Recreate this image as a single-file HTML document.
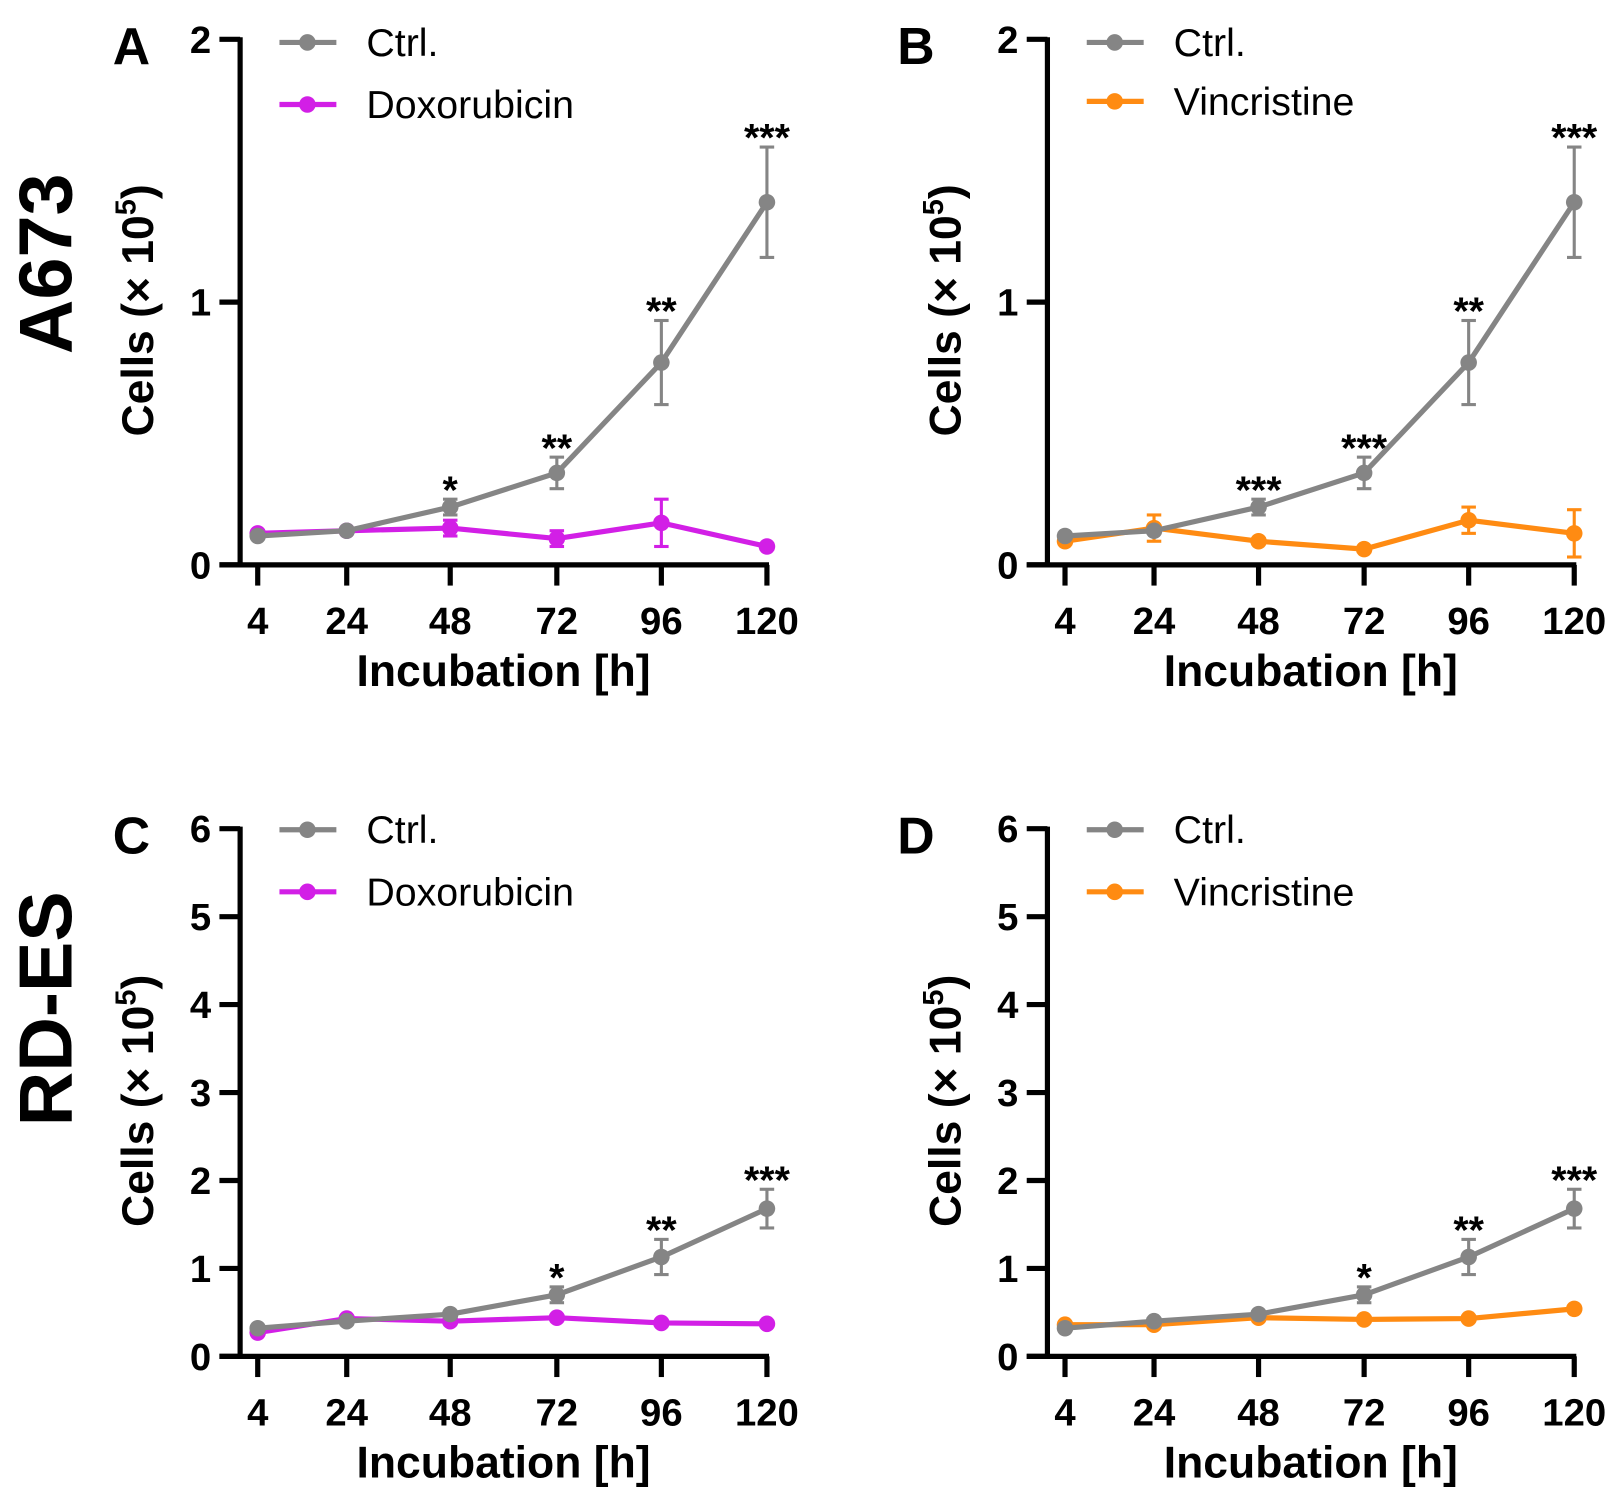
<!DOCTYPE html>
<html><head><meta charset="utf-8"><style>
html,body{margin:0;padding:0;background:#fff;}
svg{display:block;font-family:"Liberation Sans",Arial,sans-serif;}
</style></head><body>
<svg id="fig" width="1621" height="1503" viewBox="0 0 1621 1503" xmlns="http://www.w3.org/2000/svg">
<g id="root" transform="scale(1.0350 1.0346)">
<text x="45" y="255" font-size="73" font-weight="bold" text-anchor="middle" dominant-baseline="central" transform="rotate(-90 45 255)">A673</text>
<text x="45" y="975" font-size="73" font-weight="bold" text-anchor="middle" dominant-baseline="central" transform="rotate(-90 45 975)">RD-ES</text>
</g>
</svg>
<script>
const hours = ["4","24","48","72","96","120"];
const ctrlA = [0.11,0.13,0.22,0.35,0.77,1.38];
const ctrlAErr = [0.01,0.01,0.03,0.06,0.16,0.21];
const doxA = [0.12,0.13,0.14,0.10,0.16,0.07];
const doxAErr = [0.01,0.01,0.03,0.03,0.09,0.01];
const vinB = [0.09,0.14,0.09,0.06,0.17,0.12];
const vinBErr = [0.01,0.05,0.01,0.01,0.05,0.09];
const ctrlC = [0.32,0.40,0.48,0.70,1.13,1.68];
const ctrlCErr = [0.02,0.03,0.03,0.09,0.20,0.22];
const doxC = [0.27,0.43,0.40,0.44,0.38,0.37];
const doxCErr = [0.02,0.02,0.02,0.02,0.02,0.02];
const vinD = [0.36,0.36,0.44,0.42,0.43,0.54];
const vinDErr = [0.02,0.02,0.02,0.02,0.02,0.02];
const starsA = ["","","*","**","**","***"];
const starsB = ["","","***","***","**","***"];
const starsCD = ["","","","*","**","***"];
const ticksTop = [0,1,2];
const ticksBottom = [0,1,2,3,4,5,6];

const NS="http://www.w3.org/2000/svg";
const svg=document.getElementById('root');
function mk(tag,attrs,parent){const e=document.createElementNS(NS,tag);for(const k in attrs)e.setAttribute(k,attrs[k]);(parent||svg).appendChild(e);return e;}

const GRAY="#858585";
function panel(cfg){
  const g=mk('g',{});
  
  
  const ax=cfg.ax, y0=cfg.y0, yTop=cfg.yTop, ymax=cfg.ymax;
  const xs=cfg.xs;
  const X=i=>xs[i];
  const Y=v=>y0-(v/ymax)*(y0-yTop);
  const pl=mk('text',{x:cfg.lx,y:cfg.ly,'font-size':50,'font-weight':'bold','text-anchor':'middle'},g);
  pl.textContent=cfg.id;
  
  
  const yl=mk('line',{x1:ax,y1:yTop-2,x2:ax,y2:y0+2,stroke:'#000','stroke-width':5},g);
  
  
  const xl=mk('line',{x1:ax-20,y1:y0,x2:X(5)+2,y2:y0,stroke:'#000','stroke-width':5},g);
  
  
  cfg.ticks.forEach(t=>{
    mk('line',{x1:ax-20,y1:Y(t),x2:ax,y2:Y(t),stroke:'#000','stroke-width':5},g);
    const tl=mk('text',{x:ax-28,y:Y(t)+13,'font-size':37,'font-weight':'bold','text-anchor':'end'},g);
    tl.textContent=t;
    
    
  });
  hours.forEach((h,i)=>{
    mk('line',{x1:X(i),y1:y0,x2:X(i),y2:y0+20,stroke:'#000','stroke-width':5},g);
    const tl=mk('text',{x:X(i),y:y0+67,'font-size':37,'font-weight':'bold','text-anchor':'middle'},g);
    tl.textContent=h;
    
    
  });
  const xt=mk('text',{x:(ax+X(5))/2,y:y0+117,'font-size':43,'font-weight':'bold','text-anchor':'middle'},g);
  xt.textContent='Incubation [h]';
  
  
  const ycx=ax-84, ycy=(y0+yTop)/2+8;
  const yt=mk('text',{x:ycx,y:ycy,'font-size':43,'font-weight':'bold','text-anchor':'middle',transform:`rotate(-90 ${ycx} ${ycy})`},g);
  yt.innerHTML='Cells (× 10<tspan font-size="28" dy="-17">5</tspan><tspan dy="17">)</tspan>';
  
  
  function series(vals,errs,color,name){
    const sg=mk('g',{},g);
    
    
    mk('polyline',{points:vals.map((v,i)=>X(i)+','+Y(v)).join(' '),fill:'none',stroke:color,'stroke-width':5,'stroke-linejoin':'round'},sg);
    vals.forEach((v,i)=>{
      const e=errs[i];
      mk('line',{x1:X(i),y1:Y(v+e),x2:X(i),y2:Y(v-e),stroke:color,'stroke-width':3},sg);
      mk('line',{x1:X(i)-7,y1:Y(v+e),x2:X(i)+7,y2:Y(v+e),stroke:color,'stroke-width':3},sg);
      mk('line',{x1:X(i)-7,y1:Y(v-e),x2:X(i)+7,y2:Y(v-e),stroke:color,'stroke-width':3},sg);
      const c=mk('circle',{cx:X(i),cy:Y(v),r:8,fill:color},sg);
      
      
    });
  }
  series(cfg.trt,cfg.trtErr,cfg.color,'series-'+cfg.trtName.toLowerCase());
  series(cfg.ctrl,cfg.ctrlErr,GRAY,'series-ctrl');
  cfg.stars.forEach((s,i)=>{
    if(!s)return;
    const st=mk('text',{x:X(i),y:Y(cfg.ctrl[i]+cfg.ctrlErr[i])+4,'font-size':38,'font-weight':'bold','text-anchor':'middle'},g);
    st.textContent=s;
    
    
  });
  [[GRAY,'Ctrl.',cfg.lg1],[cfg.color,cfg.trtName,cfg.lg2]].forEach(([c,t,yy])=>{
    const lg=mk('g',{},g);
    
    
    mk('line',{x1:ax+38,y1:yy,x2:ax+93,y2:yy,stroke:c,'stroke-width':5},lg);
    mk('circle',{cx:ax+65,cy:yy,r:8,fill:c},lg);
    const lt=mk('text',{x:ax+122,y:yy+13,'font-size':38},lg);
    lt.textContent=t;
  });
}
const xsL=[249,335,435,538,639,741];
const xsR=[1029,1115,1216,1318,1419,1521];
panel({id:'A',lx:127,ly:62,ax:232,y0:546,yTop:38,ymax:2,xs:xsL,ticks:ticksTop,ctrl:ctrlA,ctrlErr:ctrlAErr,trt:doxA,trtErr:doxAErr,color:'#d21fe6',trtName:'Doxorubicin',stars:starsA,lg1:41,lg2:101});
panel({id:'B',lx:885,ly:62,ax:1012,y0:546,yTop:38,ymax:2,xs:xsR,ticks:ticksTop,ctrl:ctrlA,ctrlErr:ctrlAErr,trt:vinB,trtErr:vinBErr,color:'#ff8b12',trtName:'Vincristine',stars:starsB,lg1:41,lg2:98});
panel({id:'C',lx:127,ly:825,ax:232,y0:1311,yTop:801,ymax:6,xs:xsL,ticks:ticksBottom,ctrl:ctrlC,ctrlErr:ctrlCErr,trt:doxC,trtErr:doxCErr,color:'#d21fe6',trtName:'Doxorubicin',stars:starsCD,lg1:802,lg2:862});
panel({id:'D',lx:885,ly:825,ax:1012,y0:1311,yTop:801,ymax:6,xs:xsR,ticks:ticksBottom,ctrl:ctrlC,ctrlErr:ctrlCErr,trt:vinD,trtErr:vinDErr,color:'#ff8b12',trtName:'Vincristine',stars:starsCD,lg1:802,lg2:862});
</script>
</body></html>
